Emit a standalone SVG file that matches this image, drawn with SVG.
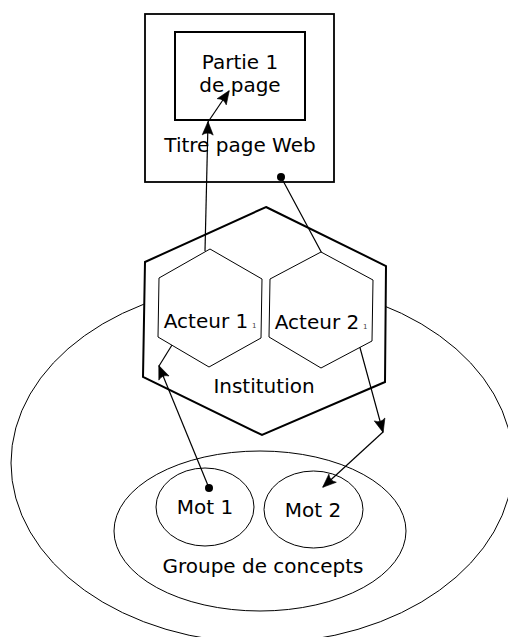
<svg xmlns="http://www.w3.org/2000/svg" width="508" height="637" viewBox="0 0 508 637">
<style>
text{font-family:"DejaVu Sans","Liberation Sans",sans-serif;font-size:20px;fill:#000;text-anchor:middle}
.sub{font-size:7px;fill:#444;text-anchor:start}
.thin{fill:none;stroke:#000;stroke-width:1}
.thick{fill:#fff;stroke:#000;stroke-width:2}
.hexa{fill:#fff;stroke:#000;stroke-width:1}
.con{fill:none;stroke:#000;stroke-width:1.2}
</style>
<defs>
<marker id="arr" markerUnits="userSpaceOnUse" viewBox="-16 -8 18 16" refX="0" refY="0" markerWidth="18" markerHeight="16" orient="auto">
<path d="M0.5,0 L-13,-5.5 Q-9,0 -13,5.5 Z" fill="#000" stroke="#000" stroke-width="0.6" stroke-linejoin="miter"/>
</marker>
</defs>
<rect width="508" height="637" fill="#fff"/>
<g id="domaine">
<ellipse class="thin" cx="262" cy="463" rx="251" ry="180"/>
</g>
<g id="groupe">
<ellipse class="thin" cx="260" cy="531" rx="146" ry="80"/>
<text x="263" y="573">Groupe de concepts</text>
</g>
<g id="mot1">
<ellipse class="thin" cx="205" cy="507" rx="49" ry="39"/>
<text x="205" y="514">Mot 1</text>
</g>
<g id="mot2">
<ellipse class="thin" cx="313.5" cy="509.5" rx="49.5" ry="38.5"/>
<text x="313" y="517">Mot 2</text>
</g>
<g id="page">
<rect x="145" y="14" width="189" height="168" fill="none" stroke="#000" stroke-width="1.8"/>
<text x="240" y="152">Titre page Web</text>
</g>
<g id="partie1">
<rect x="175" y="32" width="130" height="88" fill="none" stroke="#000" stroke-width="2"/>
<text x="240" y="69">Partie 1</text>
<text x="240" y="92">de page</text>
</g>
<g id="institution">
<polygon class="thick" points="266,207 386,266 385,382 262,435 143,377 145,262"/>
<text x="264" y="393">Institution</text>
</g>
<g id="connectors">
<path class="con" d="M205,251 L208,122" marker-end="url(#arr)"/>
<path class="con" d="M208,122 L229,91" marker-end="url(#arr)"/>
<circle cx="281" cy="177" r="4" fill="#000"/>
<path class="con" d="M281,177 L347,300 L383,432" marker-end="url(#arr)"/>
<path class="con" d="M383,432 L323,487" marker-end="url(#arr)"/>
<circle cx="209" cy="488" r="4" fill="#000"/>
<path class="con" d="M209,488 L159,366" marker-end="url(#arr)"/>
<path class="con" d="M159,366 L172,345"/>
</g>
<g id="acteur1">
<polygon class="hexa" points="210,249 262,279 261,338 209,367 158,337 159,278"/>
<text x="206" y="328">Acteur 1</text>
<text class="sub" x="252" y="328">1</text>
</g>
<g id="acteur2">
<polygon class="hexa" points="321,252 373,280 372,341 321,368 269,337 270,279"/>
<text x="317" y="329">Acteur 2</text>
<text class="sub" x="363" y="329">1</text>
</g>
</svg>
